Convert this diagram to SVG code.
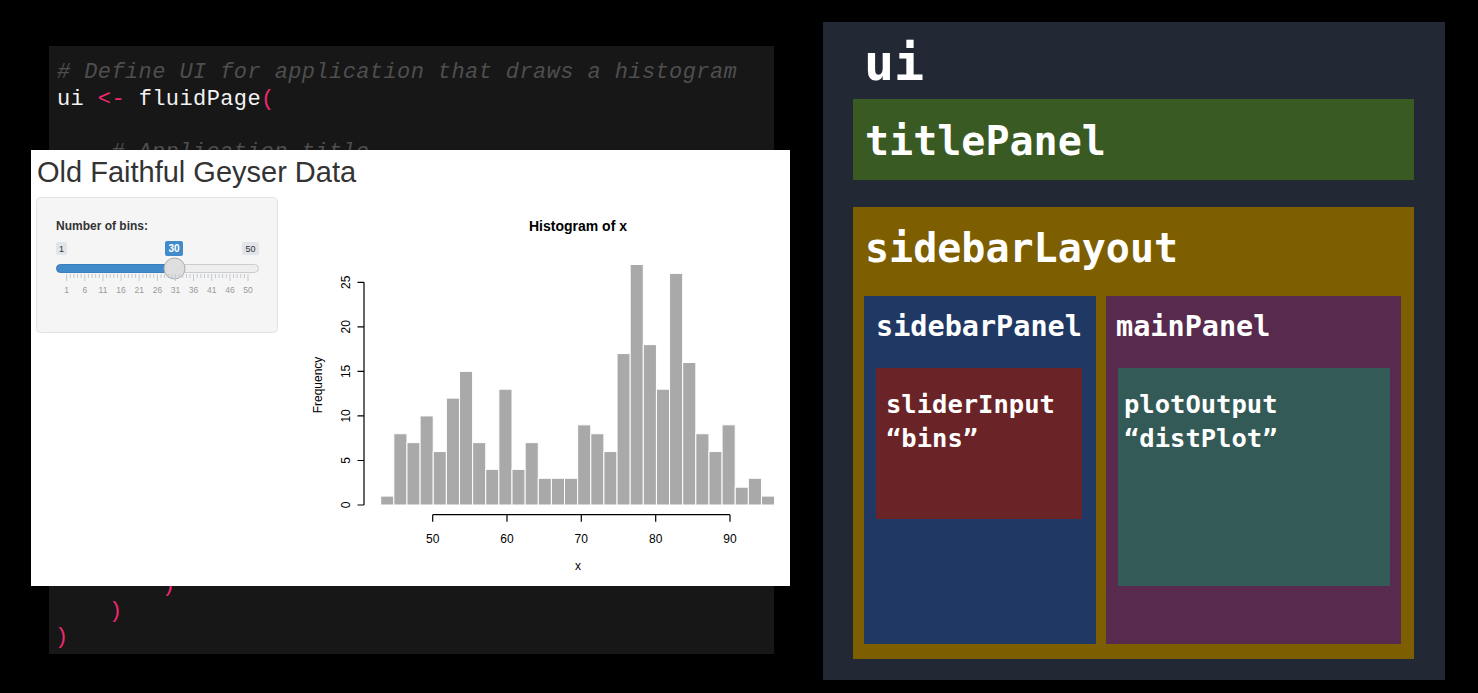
<svg xmlns="http://www.w3.org/2000/svg" width="1478" height="693" viewBox="0 0 1478 693">
<style>
.code{font-family:"Liberation Mono","DejaVu Sans Mono",monospace;font-size:22px;letter-spacing:0.4px;}
.cm{fill:#4e4e4e;font-style:italic;}
.wt{fill:#f2f2f2;}
.pk{fill:#f0286e;}
.lbl{font-family:"DejaVu Sans Mono","Liberation Mono",monospace;font-weight:bold;fill:#ffffff;}
.sans{font-family:"Liberation Sans",Arial,sans-serif;}
.ax{stroke:#000;stroke-width:1.2;fill:none;}
.bar{fill:#a9a9a9;stroke:#ffffff;stroke-width:1;}
.tk{font-family:"Liberation Sans",Arial,sans-serif;font-size:12px;fill:#000;}
.sl{font-family:"Liberation Sans",Arial,sans-serif;font-size:8.5px;fill:#999;text-anchor:middle;}
</style>
<rect x="0" y="0" width="1478" height="693" fill="#000"/>

<g id="code-editor">
<rect x="49" y="46" width="725" height="608" fill="#171717"/>
<text class="code cm" x="57" y="78"># Define UI for application that draws a histogram</text>
<text class="code" x="57" y="105"><tspan class="wt">ui </tspan><tspan class="pk">&lt;-</tspan><tspan class="wt"> fluidPage</tspan><tspan class="pk">(</tspan></text>
<text class="code cm" x="111" y="158"># Application title</text>
<text class="code pk" x="162" y="591">)</text>
<text class="code pk" x="109" y="617">)</text>
<text class="code pk" x="55" y="643">)</text>
</g>

<g id="shiny-app">
<rect x="31" y="150" width="759" height="436" fill="#ffffff"/>
<text class="sans" x="37" y="182" font-size="29" fill="#333">Old Faithful Geyser Data</text>

<g id="slider-well">
<rect x="36.5" y="197.5" width="241" height="135" rx="4" fill="#f5f5f5" stroke="#e3e3e3"/>
<text class="sans" x="56" y="230" font-size="12" font-weight="bold" fill="#333">Number of bins:</text>
<rect x="56" y="242" width="11" height="13" rx="2" fill="#e1e4e9"/>
<text class="sans" x="61.5" y="252" font-size="9" fill="#333" text-anchor="middle">1</text>
<rect x="242" y="242" width="17" height="13" rx="2" fill="#e1e4e9"/>
<text class="sans" x="250.5" y="252" font-size="9" fill="#333" text-anchor="middle">50</text>
<rect x="165" y="241" width="18" height="15" rx="2" fill="#428bca"/>
<text class="sans" x="174" y="252" font-size="10" font-weight="bold" fill="#fff" text-anchor="middle">30</text>
<rect x="56.5" y="264.5" width="202" height="8" rx="4" fill="#eeeeee" stroke="#cccccc"/>
<rect x="56.5" y="264.5" width="118" height="8" rx="4" fill="#428bca" stroke="#3a7fbc"/>
<circle cx="174.5" cy="268.5" r="10.5" fill="#dedede" stroke="#aaaaaa"/>
<path stroke="#c2c8d0" stroke-width="1" fill="none" d="M66.7 274v7M84.8 274v7M103 274v7M121.1 274v7M139.2 274v7M157.4 274v7M175.5 274v7M193.6 274v7M211.7 274v7M229.9 274v7M248 274v7
M70.3 274v4M73.9 274v4M77.6 274v4M81.2 274v4
M88.4 274v4M92.1 274v4M95.7 274v4M99.3 274v4
M106.6 274v4M110.2 274v4M113.8 274v4M117.5 274v4
M124.7 274v4M128.4 274v4M132 274v4M135.6 274v4
M142.9 274v4M146.5 274v4M150.1 274v4M153.7 274v4
M161 274v4M164.6 274v4M168.2 274v4M171.9 274v4
M179.1 274v4M182.8 274v4M186.4 274v4M190 274v4
M197.2 274v4M200.9 274v4M204.5 274v4M208.1 274v4
M215.4 274v4M219 274v4M222.6 274v4M226.3 274v4
M233.5 274v4M237.1 274v4M240.8 274v4M244.4 274v4"/>
<text class="sl" x="66.7" y="293">1</text>
<text class="sl" x="84.8" y="293">6</text>
<text class="sl" x="103" y="293">11</text>
<text class="sl" x="121.1" y="293">16</text>
<text class="sl" x="139.2" y="293">21</text>
<text class="sl" x="157.4" y="293">26</text>
<text class="sl" x="175.5" y="293">31</text>
<text class="sl" x="193.6" y="293">36</text>
<text class="sl" x="211.7" y="293">41</text>
<text class="sl" x="229.9" y="293">46</text>
<text class="sl" x="248" y="293">50</text>
</g>

<g id="histogram">
<text class="sans" x="578" y="231" font-size="14" font-weight="bold" fill="#000" text-anchor="middle">Histogram of x</text>
<rect class="bar" x="380.70" y="496.09" width="13.13" height="8.91"/>
<rect class="bar" x="393.83" y="433.74" width="13.13" height="71.26"/>
<rect class="bar" x="406.96" y="442.64" width="13.13" height="62.36"/>
<rect class="bar" x="420.09" y="415.92" width="13.13" height="89.08"/>
<rect class="bar" x="433.22" y="451.55" width="13.13" height="53.45"/>
<rect class="bar" x="446.35" y="398.10" width="13.13" height="106.90"/>
<rect class="bar" x="459.48" y="371.38" width="13.13" height="133.62"/>
<rect class="bar" x="472.61" y="442.64" width="13.13" height="62.36"/>
<rect class="bar" x="485.74" y="469.37" width="13.13" height="35.63"/>
<rect class="bar" x="498.87" y="389.20" width="13.13" height="115.80"/>
<rect class="bar" x="512.00" y="469.37" width="13.13" height="35.63"/>
<rect class="bar" x="525.13" y="442.64" width="13.13" height="62.36"/>
<rect class="bar" x="538.26" y="478.28" width="13.13" height="26.72"/>
<rect class="bar" x="551.39" y="478.28" width="13.13" height="26.72"/>
<rect class="bar" x="564.52" y="478.28" width="13.13" height="26.72"/>
<rect class="bar" x="577.65" y="424.83" width="13.13" height="80.17"/>
<rect class="bar" x="590.78" y="433.74" width="13.13" height="71.26"/>
<rect class="bar" x="603.91" y="451.55" width="13.13" height="53.45"/>
<rect class="bar" x="617.04" y="353.56" width="13.13" height="151.44"/>
<rect class="bar" x="630.17" y="264.48" width="13.13" height="240.52"/>
<rect class="bar" x="643.30" y="344.66" width="13.13" height="160.34"/>
<rect class="bar" x="656.43" y="389.20" width="13.13" height="115.80"/>
<rect class="bar" x="669.56" y="273.39" width="13.13" height="231.61"/>
<rect class="bar" x="682.69" y="362.47" width="13.13" height="142.53"/>
<rect class="bar" x="695.82" y="433.74" width="13.13" height="71.26"/>
<rect class="bar" x="708.95" y="451.55" width="13.13" height="53.45"/>
<rect class="bar" x="722.08" y="424.83" width="13.13" height="80.17"/>
<rect class="bar" x="735.21" y="487.18" width="13.13" height="17.82"/>
<rect class="bar" x="748.34" y="478.28" width="13.13" height="26.72"/>
<rect class="bar" x="761.47" y="496.09" width="13.13" height="8.91"/>
<path class="ax" d="M364 505V282.3M364 505h-6.5M364 460.5h-6.5M364 415.9h-6.5M364 371.4h-6.5M364 326.8h-6.5M364 282.3h-6.5"/>
<path class="ax" d="M432.7 514.7H730M432.7 514.7v7M507 514.7v7M581.3 514.7v7M655.7 514.7v7M730 514.7v7"/>
<text class="tk" transform="translate(350 505) rotate(-90)" text-anchor="middle">0</text>
<text class="tk" transform="translate(350 460.5) rotate(-90)" text-anchor="middle">5</text>
<text class="tk" transform="translate(350 415.9) rotate(-90)" text-anchor="middle">10</text>
<text class="tk" transform="translate(350 371.4) rotate(-90)" text-anchor="middle">15</text>
<text class="tk" transform="translate(350 326.8) rotate(-90)" text-anchor="middle">20</text>
<text class="tk" transform="translate(350 282.3) rotate(-90)" text-anchor="middle">25</text>
<text class="tk" x="432.7" y="543" text-anchor="middle">50</text>
<text class="tk" x="507" y="543" text-anchor="middle">60</text>
<text class="tk" x="581.3" y="543" text-anchor="middle">70</text>
<text class="tk" x="655.7" y="543" text-anchor="middle">80</text>
<text class="tk" x="730" y="543" text-anchor="middle">90</text>
<text class="tk" transform="translate(322 385) rotate(-90)" text-anchor="middle" font-size="11">Frequency</text>
<text class="tk" x="578" y="570" text-anchor="middle">x</text>
</g>
</g>

<g id="ui">
<rect x="823" y="22" width="622" height="658" fill="#222834"/>
<text class="lbl" x="864" y="80" font-size="50">ui</text>
</g>
<g id="titlePanel">
<rect x="853" y="99" width="561" height="81" fill="#3a5a23"/>
<text class="lbl" x="865" y="155" font-size="40">titlePanel</text>
</g>
<g id="sidebarLayout">
<rect x="853" y="207" width="561" height="452" fill="#7d5e00"/>
<text class="lbl" x="865" y="262" font-size="40">sidebarLayout</text>
</g>
<g id="sidebarPanel">
<rect x="864" y="296" width="232" height="348" fill="#203864"/>
<text class="lbl" x="876" y="336" font-size="28.5">sidebarPanel</text>
</g>
<g id="mainPanel">
<rect x="1106" y="296" width="295" height="348" fill="#572a4e"/>
<text class="lbl" x="1116" y="336" font-size="28.5">mainPanel</text>
</g>
<g id="sliderInput">
<rect x="876" y="368" width="206" height="151" fill="#6a2427"/>
<text class="lbl" x="886" y="413" font-size="25.5">sliderInput</text>
<text class="lbl" x="886" y="447" font-size="25.5">“bins”</text>
</g>
<g id="plotOutput">
<rect x="1118" y="368" width="272" height="218" fill="#345a57"/>
<text class="lbl" x="1124" y="413" font-size="25.5">plotOutput</text>
<text class="lbl" x="1124" y="447" font-size="25.5">“distPlot”</text>
</g>
</svg>
